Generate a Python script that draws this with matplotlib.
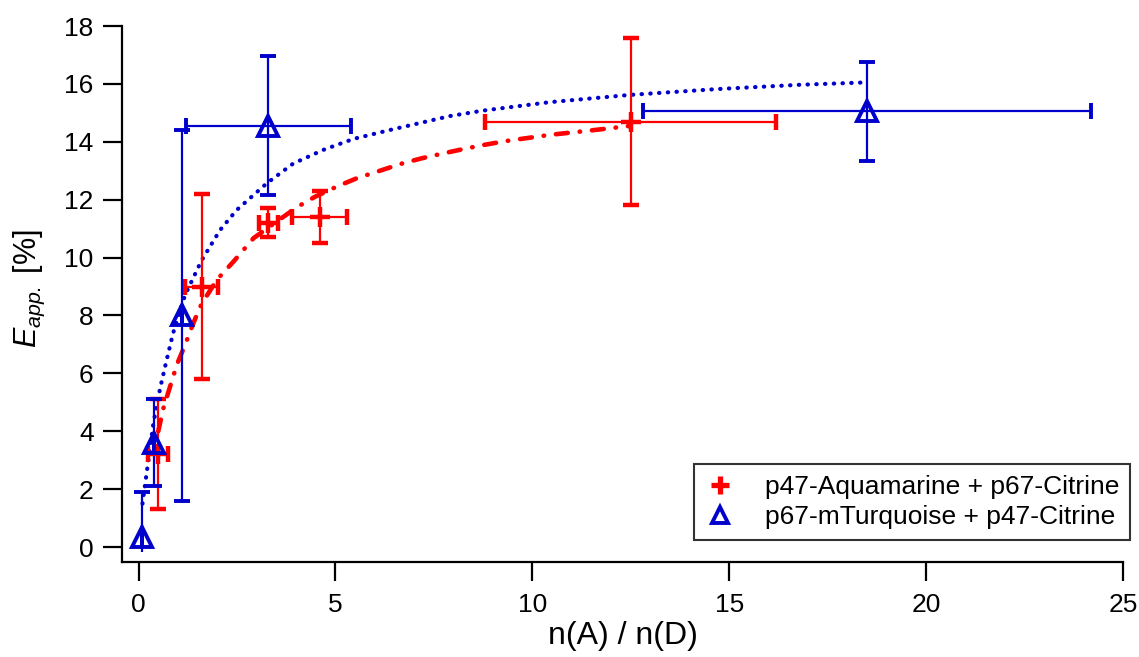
import matplotlib
matplotlib.use('Agg')
import matplotlib.pyplot as plt
from matplotlib.lines import Line2D

plt.rcParams['font.family'] = ['Liberation Sans', 'DejaVu Sans']
plt.rcParams['mathtext.fontset'] = 'custom'
plt.rcParams['mathtext.rm'] = 'Liberation Sans'
plt.rcParams['mathtext.it'] = 'Liberation Sans:italic'

# data
red_x = [0.5, 1.6, 3.3, 4.6, 12.5]
red_y = [3.2, 9.0, 11.2, 11.4, 14.7]
red_xerr = [0.25, 0.42, 0.24, 0.7, 3.7]
red_yerr = [1.9, 3.2, 0.5, 0.9, 2.9]

blue_x = [0.1, 0.4, 1.1, 3.3, 18.5]
blue_y = [0.35, 3.6, 8.0, 14.55, 15.05]
blue_xerr = [0, 0, 0, 2.1, 5.7]
blue_yerr = [1.55, 1.5, 6.4, 2.4, 1.7]

# fit curves
red_fit_x = [0.5, 0.63, 0.8, 0.97, 1.18, 1.39, 1.6, 2.0, 2.41, 2.92, 4.02, 4.48,
             5.03, 5.54, 6.13, 6.64, 7.19, 7.74, 8.25, 8.76, 9.35, 10.45, 11.47, 12.5]
red_fit_y = [4.0, 4.79, 5.54, 6.29, 6.98, 7.73, 8.4, 9.25, 9.86, 10.67, 11.74, 12.1,
             12.45, 12.74, 13.0, 13.23, 13.43, 13.6, 13.75, 13.89, 14.03, 14.24, 14.39, 14.55]

blue_fit_x = [0.1, 0.25, 0.38, 0.55, 0.72, 0.88, 1.18, 1.6, 2.07, 2.49, 3.26, 3.93, 4.69,
              5.46, 6.39, 7.91, 8.76, 10.45, 12.48, 14.68, 16.8, 18.45]
blue_fit_y = [1.5, 3.0, 4.3, 5.5, 6.5, 7.4, 8.7, 9.9, 10.95, 11.64, 12.57, 13.25, 13.72,
              14.1, 14.41, 14.89, 15.08, 15.37, 15.62, 15.82, 15.97, 16.05]

red = '#FF0000'
blue = '#0000CC'

fig = plt.figure(figsize=(11.39, 6.57), dpi=100)
ax = fig.add_axes([122/1139, 1-552/657, (1123-122)/1139, (552-26)/657])

ax.plot(blue_fit_x, blue_fit_y, color=blue, lw=3.0, linestyle=(0, (0.1, 2.0)),
        dash_capstyle='round', zorder=2)
ax.plot(red_fit_x, red_fit_y, color=red, lw=3.3, linestyle=(0, (2.6, 2.6, 0.1, 2.6)),
        dash_capstyle='round', zorder=2)

ax.errorbar(red_x, red_y, xerr=red_xerr, yerr=red_yerr, fmt='+', color=red,
            ms=14, mew=3.2, elinewidth=1.6, capsize=6, capthick=1.6, zorder=3)
ax.errorbar(blue_x, blue_y, xerr=blue_xerr, yerr=blue_yerr, fmt='^', color=blue,
            mfc='none', ms=15, mew=2.8, elinewidth=1.6, capsize=6, capthick=1.6, zorder=3)

ax.set_xlim(-0.42, 25)
ax.set_ylim(-0.17, 18)
ax.set_xticks([0, 5, 10, 15, 20, 25])
ax.set_yticks(range(0, 19, 2))

for s in ['top', 'right']:
    ax.spines[s].set_visible(False)
ax.spines['bottom'].set_position(('outward', 7.2))
ax.spines['left'].set_bounds(-0.52, 18)
for s in ['left', 'bottom']:
    ax.spines[s].set_linewidth(1.6)
ax.tick_params(direction='out', length=13.5, width=1.6, labelsize=19)
ax.tick_params(axis='x', pad=9)
ax.tick_params(axis='y', pad=7)

ax.set_xlabel('n(A) / n(D)', fontsize=23, labelpad=3)
ax.set_ylabel(r'$E_{app.}$ [%]', fontsize=22, labelpad=12)

handles = [
    Line2D([], [], color=red, marker='+', ls='none', ms=13, mew=3.8),
    Line2D([], [], color=blue, marker='^', mfc='none', ls='none', ms=11, mew=2.8),
]
labels = ['p47-Aquamarine + p67-Citrine', 'p67-mTurquoise + p47-Citrine']
leg = ax.legend(handles, labels, loc='lower right', bbox_to_anchor=(1130/1139, 1-540/657),
                bbox_transform=fig.transFigure, fontsize=19, frameon=True, fancybox=False,
                borderaxespad=0, handletextpad=1.1, labelspacing=0.25, borderpad=0.4,
                handlelength=1.2)
leg.get_frame().set_edgecolor('black')
leg.get_frame().set_linewidth(1.5)

plt.savefig('out.png', dpi=100)
